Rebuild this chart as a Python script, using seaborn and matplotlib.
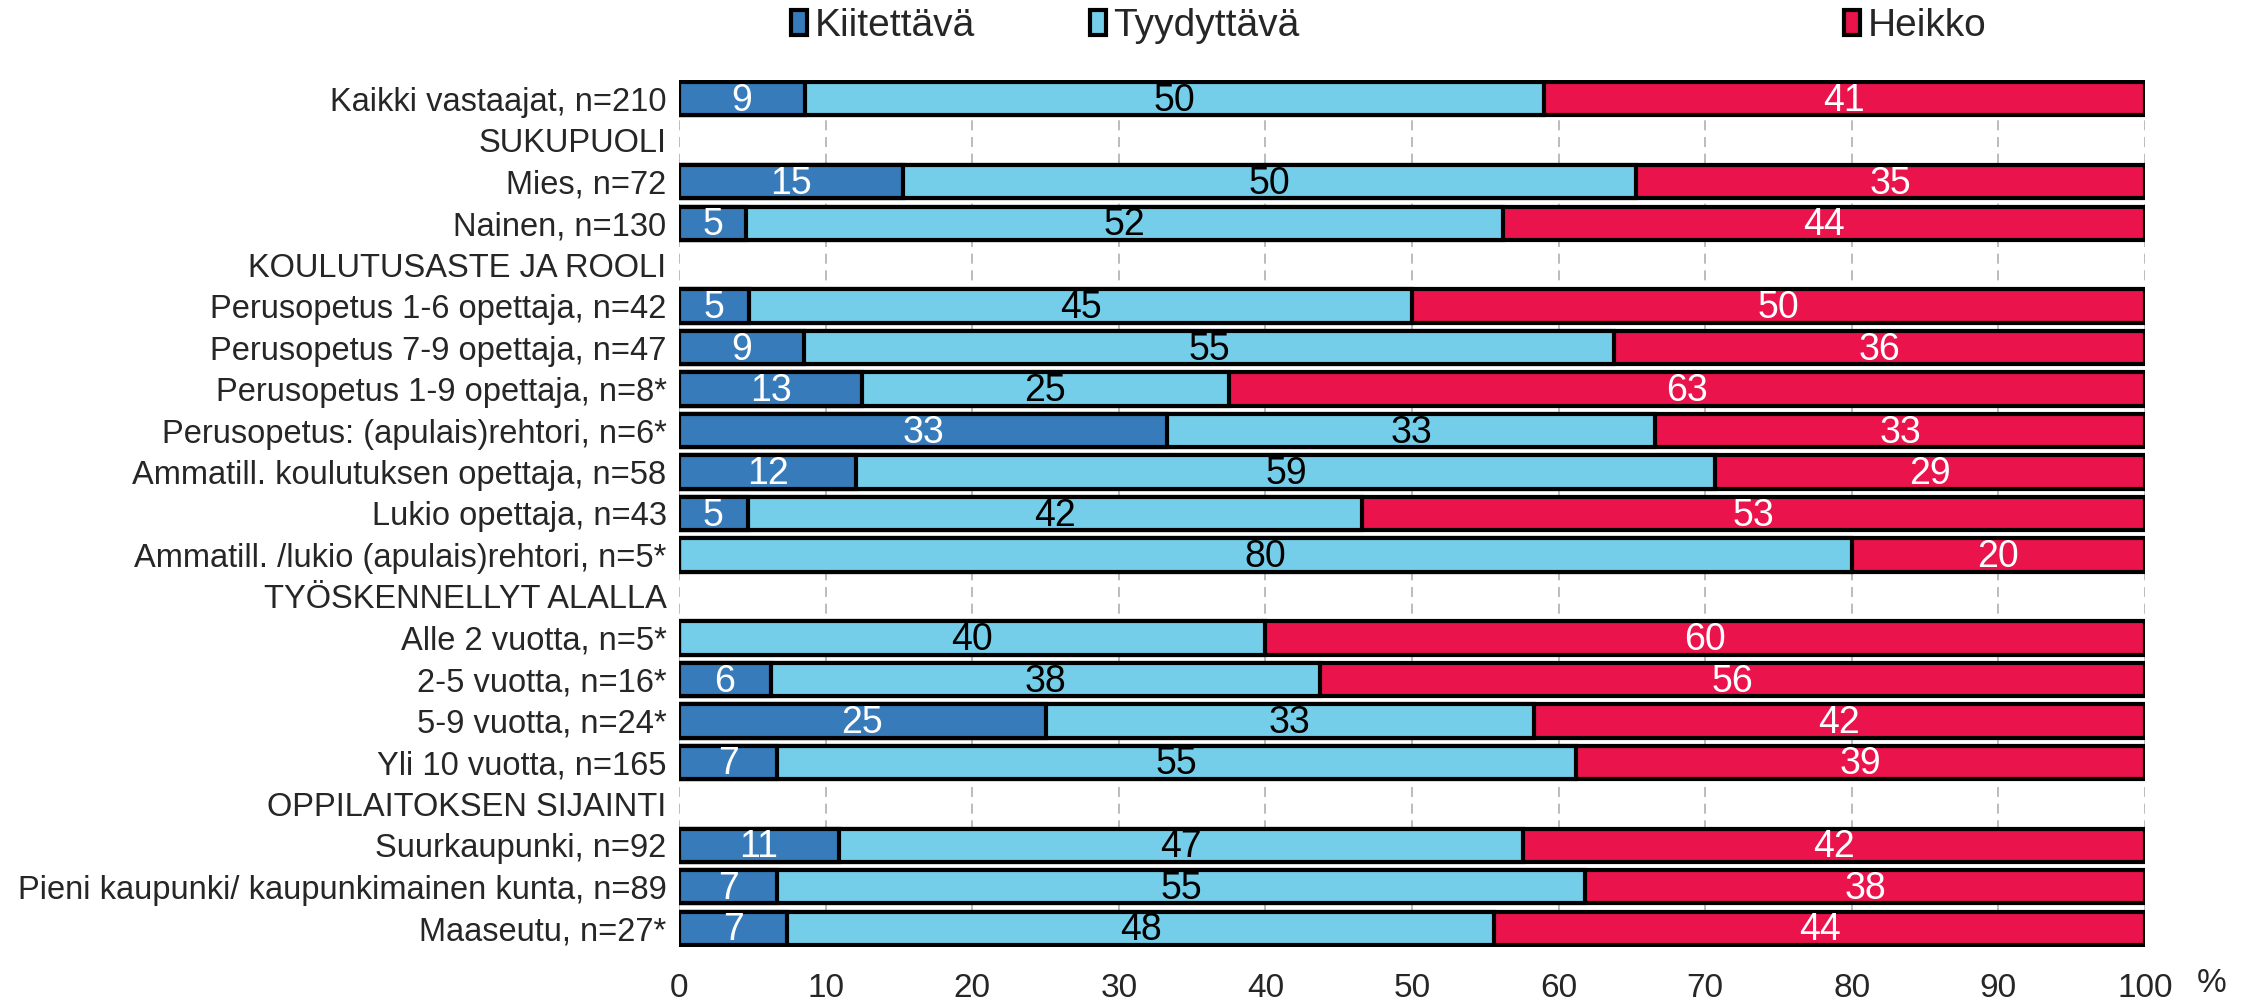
import matplotlib
matplotlib.use("Agg")
import matplotlib.pyplot as plt
import seaborn as sns
import numpy as np
import pandas as pd

categories = [
    "Kaikki vastaajat, n=210",
    "SUKUPUOLI",
    "Mies, n=72",
    "Nainen, n=130",
    "KOULUTUSASTE JA ROOLI",
    "Perusopetus 1-6 opettaja, n=42",
    "Perusopetus 7-9 opettaja, n=47",
    "Perusopetus 1-9 opettaja, n=8*",
    "Perusopetus: (apulais)rehtori, n=6*",
    "Ammatill. koulutuksen opettaja, n=58",
    "Lukio opettaja, n=43",
    "Ammatill. /lukio (apulais)rehtori, n=5*",
    "TYÖSKENNELLYT ALALLA",
    "Alle 2 vuotta, n=5*",
    "2-5 vuotta, n=16*",
    "5-9 vuotta, n=24*",
    "Yli 10 vuotta, n=165",
    "OPPILAITOKSEN SIJAINTI",
    "Suurkaupunki, n=92",
    "Pieni kaupunki/ kaupunkimainen kunta, n=89",
    "Maaseutu, n=27*",
]
nan = np.nan
kiitettava = [8.6, nan, 15.3, 4.6, nan, 4.8, 8.5, 12.5, 33.3, 12.1, 4.7, 0.0, nan,
              0.0, 6.25, 25.0, 6.7, nan, 10.9, 6.7, 7.4]
tyydyttava = [50.4, nan, 50.0, 51.6, nan, 45.2, 55.3, 25.0, 33.3, 58.6, 41.9, 80.0, nan,
              40.0, 37.5, 33.3, 54.5, nan, 46.7, 55.1, 48.2]
heikko = [41.0, nan, 34.7, 43.8, nan, 50.0, 36.2, 62.5, 33.4, 29.3, 53.4, 20.0, nan,
          60.0, 56.25, 41.7, 38.8, nan, 42.4, 38.2, 44.4]
series_names = ["Kiitettävä", "Tyydyttävä", "Heikko"]
colors = {"Kiitettävä": "#377BBA", "Tyydyttävä": "#74CEE9", "Heikko": "#EA134C"}
label_colors = {"Kiitettävä": "white", "Tyydyttävä": "black", "Heikko": "white"}
xticks = list(range(0, 101, 10))

sns.set_theme(style="white")
plt.rcParams["font.family"] = ["Liberation Sans", "DejaVu Sans"]

rows = []
vals = {"Kiitettävä": kiitettava, "Tyydyttävä": tyydyttava, "Heikko": heikko}
for i, cat in enumerate(categories):
    cum = 0.0
    for s in series_names:
        v = vals[s][i]
        if np.isnan(v):
            rows.append(dict(cat=cat, series=s, value=np.nan, left=np.nan, cum=np.nan))
        else:
            rows.append(dict(cat=cat, series=s, value=v, left=cum, cum=cum + v))
            cum += v
df = pd.DataFrame(rows)

W, H = 2252, 1000
fig = plt.figure(figsize=(W / 100, H / 100), dpi=100)
ax = fig.add_axes([679 / W, 1 - 947 / H, (2145 - 679) / W, (947 - 80) / H])

sns.barplot(data=df, x="cum", y="cat", hue="series",
            hue_order=["Heikko", "Tyydyttävä", "Kiitettävä"], order=categories,
            palette=colors, saturation=1, dodge=False, width=0.8, edgecolor="black",
            linewidth=3, errorbar=None, orient="h", ax=ax, zorder=3)

handles, labels = ax.get_legend_handles_labels()
if ax.get_legend() is not None:
    ax.get_legend().remove()
hmap = dict(zip(labels, handles))

# value labels
for _, r in df.dropna().iterrows():
    if r["value"] <= 0:
        continue
    y = categories.index(r["cat"])
    ax.text(r["left"] + r["value"] / 2, y + 0.05, f"{int(np.floor(r['value'] + 0.5))}",
            ha="center", va="center", fontsize=27,
            color=label_colors[r["series"]], zorder=5)

ax.set_xlim(0, 100)
ax.set_ylim(len(categories) - 1 + 0.45, -0.45)
ax.set_xticks(xticks)
ax.set_xticklabels([str(t) for t in xticks], fontsize=24)
ax.tick_params(axis="x", length=0, pad=19)
ax.tick_params(axis="y", length=0, pad=9, labelsize=23.5)
ax.set_xlabel("")
ax.set_ylabel("")
for sp in ax.spines.values():
    sp.set_visible(False)
ax.xaxis.grid(True, linestyle=(0, (6, 4)), color="#b0b0b0", linewidth=1.2, zorder=0)
ax.yaxis.grid(False)
ax.set_axisbelow(True)

fig.text(2212 / W, 1 - 984 / H, "%", ha="center", va="center", fontsize=24)

legend_x = [791, 1090, 1844]
for name, lx in zip(series_names, legend_x):
    fig.legend([hmap[name]], [name], loc="center left",
               bbox_to_anchor=(lx / W, 1 - 26 / H), frameon=False,
               fontsize=28, borderpad=0, borderaxespad=0,
               handlelength=0.4, handleheight=0.6, handletextpad=0.2)

fig.savefig("out.png", dpi=100)
